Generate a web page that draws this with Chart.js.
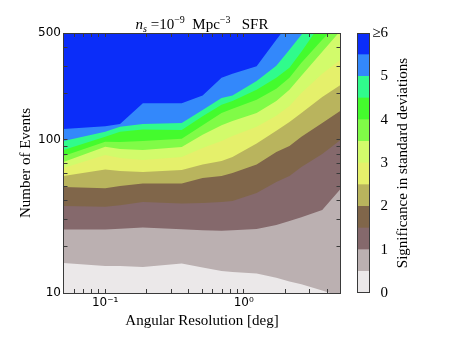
<!DOCTYPE html>
<html>
<head>
<meta charset="utf-8">
<script src="https://cdn.jsdelivr.net/npm/chart.js@4.4.1/dist/chart.umd.min.js"></script>
<style>
  body { margin: 0; background: #fff; }
  #wrap { position: relative; width: 455px; height: 341px; }
  #main { position: absolute; left: 0; top: 0; }
  #cbar { position: absolute; left: 345px; top: 0; }
</style>
</head>
<body>
<div id="wrap">
  <canvas id="main" width="455" height="341"></canvas>
  <canvas id="cbar" width="110" height="341"></canvas>
</div>
<script>
const angRes = [0.05, 0.1, 0.128, 0.187, 0.357, 0.505, 0.692, 0.83, 1.24, 1.72, 2.14, 2.61, 3.69, 5];

// number of events at which the significance reaches each level
const contour05 = [15.7, 15.0, 15.0, 14.8, 15.6, 14.7, 13.9, 13.7, 13.4, 12.6, 11.9, 11.4, 10.4, 9.5];
const contour10 = [26.0, 26.0, 26.3, 26.8, 26.1, 25.7, 25.5, 25.7, 26.2, 27.8, 29.5, 31.3, 34.8, 47.8];
const contour15 = [37.0, 36.6, 37.5, 39.3, 38.4, 38.7, 39.3, 39.9, 45.0, 53.1, 58.1, 66.6, 81.0, 100];
const contour20 = [49.2, 48.3, 50.0, 51.9, 51.9, 56.4, 58.1, 60.8, 69.1, 83.5, 91.4, 105, 129, 155];
const contour25 = [58.1, 64.1, 62.7, 61.7, 63.6, 69.1, 72.9, 77.4, 94.9, 115, 131, 150, 191, 229];
const contour30 = [65.6, 79.8, 76.2, 74.0, 77.4, 88.7, 98.5, 106, 122, 144, 167, 203, 271, 334];
const contour35 = [71.8, 90.4, 87.3, 86.0, 90.0, 108, 125, 133, 150, 180, 213, 263, 377, 517];
const contour40 = [78.6, 97.5, 97.0, 98.5, 102, 125, 150, 160, 183, 216, 255, 319, 452, 593];
const contour45 = [86.0, 105, 113, 117, 116, 143, 170, 180, 213, 255, 296, 377, 593, 890];
const contour50 = [98.5, 113, 122, 127, 129, 157, 188, 195, 243, 305, 389, 487, 766, 1083];
const contour55 = [118, 123, 127, 174, 174, 195, 255, 271, 303, 452, 584, 743, 1134, 1604];

// colour levels of the colorbar (sigma)
const levels = [0, 0.5, 1, 1.5, 2, 2.5, 3, 3.5, 4, 4.5, 5, 5.5, 6];
const levelColors = ['#ebe8e9', '#bbb0b1', '#85696c', '#80664a', '#b9b45d', '#e5f06b',
                     '#d2fb6b', '#80fb47', '#44fb2d', '#30fb8c', '#3388fb', '#0b2df9'];

// ticks
const xTicks = [0.06, 0.07, 0.08, 0.09, 0.1, 0.2, 0.3, 0.4, 0.5, 0.6, 0.7, 0.8, 0.9, 1, 2, 3, 4, 5];
const xLabelVals = [0.1, 1];
const xLabelText = ['10\u207B\u00B9', '10\u2070'];
const yTicks = [10, 20, 30, 40, 50, 60, 70, 80, 90, 100, 200, 300, 400, 500];
const yLabelVals = [10, 100, 500];
const cbTicks = [0, 1, 2, 3, 4, 5, 6];
const cbLabels = ['0', '1', '2', '3', '4', '5', '\u22656'];

const contours = [contour05, contour10, contour15, contour20, contour25, contour30,
                  contour35, contour40, contour45, contour50, contour55];

const serif = '"Liberation Serif", "Times New Roman", serif';
const sans = '"DejaVu Sans", sans-serif';
const frameColor = '#3a3a3a';

// each contour fills upward with the colour of the band above it; higher levels on top
const datasets = contours.map((c, k) => ({
    data: angRes.map((x, i) => ({ x: x, y: c[i] })),
    xAxisID: 'x',
    yAxisID: 'y',
    fill: 'end',
    backgroundColor: levelColors[k + 1],
    borderWidth: 0,
    pointRadius: 0,
    tension: 0,
    order: contours.length - k
}));

const bgPlugin = {
    id: 'plotBg',
    beforeDatasetsDraw(chart) {
        const a = chart.chartArea;
        chart.ctx.save();
        chart.ctx.fillStyle = levelColors[0];
        chart.ctx.fillRect(a.left, a.top, a.right - a.left, a.bottom - a.top);
        chart.ctx.restore();
    }
};

// title with italic n, subscript and superscripts
const titlePlugin = {
    id: 'richTitle',
    afterDraw(chart) {
        const ctx = chart.ctx;
        const parts = [
            { t: 'n', f: 'italic 15px ' + serif, dy: 0 },
            { t: 's', f: 'italic 10px ' + serif, dy: 3 },
            { t: ' =10', f: '15px ' + serif, dy: 0 },
            { t: '\u22129', f: '10px ' + serif, dy: -6 },
            { t: '  Mpc', f: '15px ' + serif, dy: 0 },
            { t: '\u22123', f: '10px ' + serif, dy: -6 },
            { t: '   SFR', f: '15px ' + serif, dy: 0 }
        ];
        ctx.save();
        let total = 0;
        parts.forEach(p => { ctx.font = p.f; p.w = ctx.measureText(p.t).width; total += p.w; });
        const a = chart.chartArea;
        let x = (a.left + a.right) / 2 - total / 2;
        ctx.fillStyle = '#000';
        ctx.textBaseline = 'alphabetic';
        parts.forEach(p => { ctx.font = p.f; ctx.fillText(p.t, x, 29 + p.dy); x += p.w; });
        ctx.restore();
    }
};

function setTicks(list) {
    return scale => { scale.ticks = list.map(v => ({ value: v })); };
}

const tickGrid = { drawOnChartArea: false, drawTicks: true, tickLength: -4, color: frameColor, z: 1 };
const frame = { display: true, color: frameColor, width: 1, z: 1 };

new Chart(document.getElementById('main'), {
    type: 'line',
    data: { datasets: datasets },
    options: {
        responsive: false,
        animation: false,
        layout: { padding: { left: 0, top: 33, right: 114.5, bottom: 0 } },
        plugins: { legend: { display: false }, tooltip: { enabled: false } },
        scales: {
            x: {
                type: 'logarithmic', position: 'bottom', min: 0.05, max: 5,
                afterBuildTicks: setTicks(xTicks),
                afterFit: s => { s.height = 48; },
                ticks: {
                    autoSkip: false, maxRotation: 0, padding: 7, color: '#000',
                    font: { family: sans, size: 12 },
                    callback: v => {
                        const i = xLabelVals.findIndex(l => Math.abs(l - v) < 1e-9);
                        return i >= 0 ? xLabelText[i] : '';
                    }
                },
                grid: tickGrid, border: frame,
                title: { display: true, text: 'Angular Resolution [deg]', color: '#000',
                         font: { family: serif, size: 15 }, padding: { top: 0, bottom: 11 } }
            },
            x2: {
                type: 'logarithmic', position: 'top', min: 0.05, max: 5,
                afterBuildTicks: setTicks(xTicks),
                afterFit: s => { s.height = 0; },
                ticks: { display: false },
                grid: tickGrid, border: frame
            },
            y: {
                type: 'logarithmic', position: 'left', min: 10, max: 500,
                afterBuildTicks: setTicks(yTicks),
                afterFit: s => { s.width = 63.5; },
                ticks: {
                    autoSkip: false, padding: 6.5, color: '#000',
                    font: { family: sans, size: 12 },
                    callback: v => yLabelVals.includes(v) ? String(v) : ''
                },
                grid: tickGrid, border: frame,
                title: { display: true, text: 'Number of Events', color: '#000',
                         font: { family: serif, size: 15 }, padding: { top: 17, bottom: 0 } }
            },
            y2: {
                type: 'logarithmic', position: 'right', min: 10, max: 500,
                afterBuildTicks: setTicks(yTicks),
                afterFit: s => { s.width = 0; },
                ticks: { display: false },
                grid: tickGrid, border: frame
            }
        }
    },
    plugins: [bgPlugin, titlePlugin]
});

// colorbar
const cbarPlugin = {
    id: 'cbarFrame',
    afterDraw(chart) {
        const ctx = chart.ctx;
        const a = chart.chartArea;
        ctx.save();
        ctx.strokeStyle = frameColor;
        ctx.lineWidth = 1;
        ctx.strokeRect(Math.round(a.left) + 0.5, Math.round(a.top) + 0.5,
                       Math.round(a.right - a.left) - 1, Math.round(a.bottom - a.top) - 1);
        ctx.translate(58, (a.top + a.bottom) / 2);
        ctx.rotate(-Math.PI / 2);
        ctx.font = '15px ' + serif;
        ctx.fillStyle = '#000';
        ctx.textAlign = 'center';
        ctx.textBaseline = 'middle';
        ctx.fillText('Significance in standard deviations', 0, 0);
        ctx.restore();
    }
};

new Chart(document.getElementById('cbar'), {
    type: 'bar',
    data: {
        labels: [''],
        datasets: levelColors.map((c, i) => ({
            data: [levels[i + 1] - levels[i]],
            backgroundColor: c,
            borderWidth: 0,
            barPercentage: 1,
            categoryPercentage: 1
        }))
    },
    options: {
        responsive: false,
        animation: false,
        layout: { padding: { left: 12, top: 33, right: 67, bottom: 48 } },
        plugins: { legend: { display: false }, tooltip: { enabled: false } },
        scales: {
            x: { stacked: true, display: false },
            y: {
                stacked: true, position: 'right', min: 0, max: 6,
                afterBuildTicks: setTicks(cbTicks),
                afterFit: s => { s.width = 18; },
                ticks: {
                    crossAlign: 'far', padding: 4, color: '#000',
                    font: { family: serif, size: 15 },
                    callback: (v, i) => cbLabels[i]
                },
                grid: { display: false, drawTicks: false },
                border: { display: false }
            }
        }
    },
    plugins: [cbarPlugin]
});
</script>
</body>
</html>
